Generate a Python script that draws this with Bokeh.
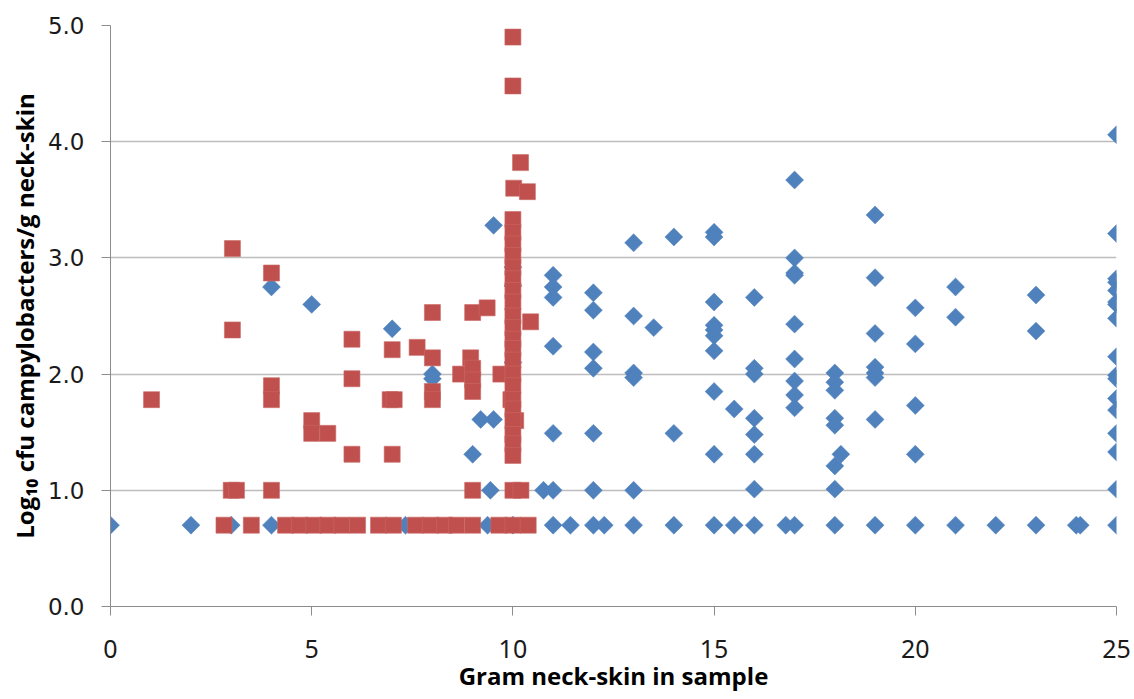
import math
from bokeh.plotting import figure
from bokeh.models import ColumnDataSource, FixedTicker, NumeralTickFormatter
from bokeh.embed import file_html
from bokeh.resources import INLINE

# ---- data ----
blue_x = [0, 2, 3.0, 4, 4, 5, 7, 7.33, 8, 8, 9, 9.2, 9.52, 9.44, 9.37, 9.52,
          10, 10, 10, 10, 10.76,
          11, 11, 11, 11, 11, 11, 11, 11.43,
          12, 12, 12, 12, 12, 12, 12, 12.27,
          13, 13, 13, 13, 13, 13, 13.5,
          14, 14, 14,
          15, 15, 15, 15, 15, 15, 15, 15, 15, 15,
          15.5, 15.5,
          16, 16, 16, 16, 16, 16, 16, 16, 16.78,
          17, 17, 17, 17, 17, 17, 17, 17, 17, 17,
          18, 18, 18, 18, 18, 18, 18, 18, 18.15,
          19, 19, 19, 19, 19, 19, 19, 19,
          20, 20, 20, 20, 20,
          21, 21, 21, 22, 23, 23, 23, 24, 24.1,
          25, 25, 25, 25, 25, 25, 25, 25, 25, 25, 25, 25, 25, 25, 25, 25, 25]
blue_y = [0.7, 0.7, 0.7, 0.7, 2.75, 2.6, 2.39, 0.7, 2.0, 1.96, 1.31, 1.61, 1.61, 1.0, 0.7, 3.28,
          2.92, 2.76, 2.1, 0.7, 1.0,
          2.85, 2.75, 2.66, 2.24, 1.49, 1.0, 0.7, 0.7,
          2.7, 2.55, 2.19, 2.05, 1.49, 1.0, 0.7, 0.7,
          3.13, 2.5, 2.01, 1.97, 1.0, 0.7, 2.4,
          3.18, 1.49, 0.7,
          3.22, 3.18, 2.62, 2.42, 2.38, 2.33, 2.2, 1.85, 1.31, 0.7,
          1.7, 0.7,
          2.66, 2.05, 2.0, 1.62, 1.48, 1.31, 1.01, 0.7, 0.7,
          3.67, 3.0, 2.87, 2.85, 2.43, 2.13, 1.94, 1.82, 1.71, 0.7,
          2.01, 1.93, 1.86, 1.62, 1.56, 1.21, 1.01, 0.7, 1.31,
          3.37, 2.83, 2.35, 2.06, 2.01, 1.97, 1.61, 0.7,
          2.57, 2.26, 1.73, 1.31, 0.7,
          2.75, 2.49, 0.7, 0.7, 2.68, 2.37, 0.7, 0.7, 0.7,
          4.06, 3.21, 2.82, 2.79, 2.72, 2.62, 2.6, 2.48, 2.15, 1.99, 1.96, 1.79, 1.69, 1.49, 1.33, 1.01, 0.7]

red_x = [1.02, 3.03, 3.03, 3.0, 3.13, 2.82, 3.5, 4, 4, 4, 4, 5, 5, 5.4, 6, 6, 6,
         7, 6.95, 7.05, 7, 7.62, 8, 8, 8, 8, 8.7, 9, 9.36, 8.95, 9, 9, 9, 9,
         9.7, 9.95, 10.07, 10, 10, 10.19, 10.02, 10.36, 10.44, 10, 10.2,
         10, 10, 10, 10, 10, 10, 10, 10, 10, 10, 10, 10, 10, 10, 10, 10, 10, 10, 10, 10, 10,
         4.35, 4.7, 5.05, 5.4, 5.75, 6.14, 6.66, 7.03, 7.58, 7.95, 8.3, 8.6, 9.0, 9.65, 10.0, 10.38]
red_y = [1.78, 3.08, 2.38, 1.0, 1.0, 0.7, 0.7, 2.87, 1.9, 1.78, 1.0, 1.6, 1.49, 1.49, 2.3, 1.96, 1.31,
         2.21, 1.78, 1.78, 1.31, 2.23, 2.53, 2.14, 1.85, 1.78, 2.0, 2.53, 2.57, 2.14, 2.05, 1.95, 1.85, 1.0,
         2.0, 1.78, 1.6, 4.9, 4.48, 3.82, 3.6, 3.57, 2.45, 1.0, 1.0,
         3.33, 3.22, 3.12, 3.02, 2.92, 2.82, 2.72, 2.62, 2.5, 2.4, 2.3, 2.22, 2.12, 2.0, 1.9, 1.78, 1.7, 1.6, 1.48, 1.4, 1.3,
         0.7, 0.7, 0.7, 0.7, 0.7, 0.7, 0.7, 0.7, 0.7, 0.7, 0.7, 0.7, 0.7, 0.7, 0.7, 0.7]

x_ticks = [0, 5, 10, 15, 20, 25]
y_ticks = [0, 1, 2, 3, 4, 5]

x_label = "Gram neck-skin in sample"
y_label = "Log\u2081\u2080 cfu campylobacters/g neck-skin"

BLUE = "#4F81BD"
RED = "#C0504D"

p = figure(width=1134, height=699,
           x_range=(0, 25), y_range=(0, 5),
           output_backend="svg", toolbar_location=None,
           min_border_left=110, min_border_top=25, min_border_right=18, min_border_bottom=93)
p.outline_line_color = None
p.background_fill_color = "white"
p.border_fill_color = "white"

p.xgrid.grid_line_color = None
p.ygrid.grid_line_color = "#BDBDBD"
p.ygrid.grid_line_width = 1.5
p.ygrid.ticker = FixedTicker(ticks=y_ticks)

p.xaxis.ticker = FixedTicker(ticks=x_ticks)
p.yaxis.ticker = FixedTicker(ticks=y_ticks)
p.yaxis.formatter = NumeralTickFormatter(format="0.0")

for ax in (p.xaxis[0], p.yaxis[0]):
    ax.axis_line_color = "#8C8C8C"
    ax.axis_line_width = 1
    ax.major_tick_line_color = "#8C8C8C"
    ax.major_tick_in = 0
    ax.major_tick_out = 9
    ax.minor_tick_line_color = None
    ax.major_label_text_color = "#1A1A1A"
    ax.axis_label_text_font = "Open Sans"
    ax.axis_label_text_font_style = "bold"
    ax.axis_label_text_font_size = "24px"
    ax.axis_label_text_color = "#000000"

p.yaxis.major_label_text_font = "DejaVu Sans"
p.yaxis.major_label_text_font_size = "23px"
p.xaxis.major_label_text_font = "Noto Sans"
p.xaxis.major_label_text_font_size = "25px"
p.xaxis.axis_label = x_label
p.yaxis.axis_label = y_label
p.xaxis.major_label_standoff = 24
p.xaxis.axis_label_standoff = -2
p.yaxis.major_label_standoff = 17
p.yaxis.axis_label_standoff = 4

blue_src = ColumnDataSource(dict(x=blue_x, y=blue_y))
red_src = ColumnDataSource(dict(x=red_x, y=red_y))

p.scatter("x", "y", source=blue_src, marker="square", size=12.7, angle=math.pi / 4,
          fill_color=BLUE, line_color=BLUE, line_width=0.5)
p.scatter("x", "y", source=red_src, marker="square", size=16,
          fill_color=RED, line_color="#C96865", line_width=0.6)

open("out.html", "w").write(file_html(p, INLINE))
